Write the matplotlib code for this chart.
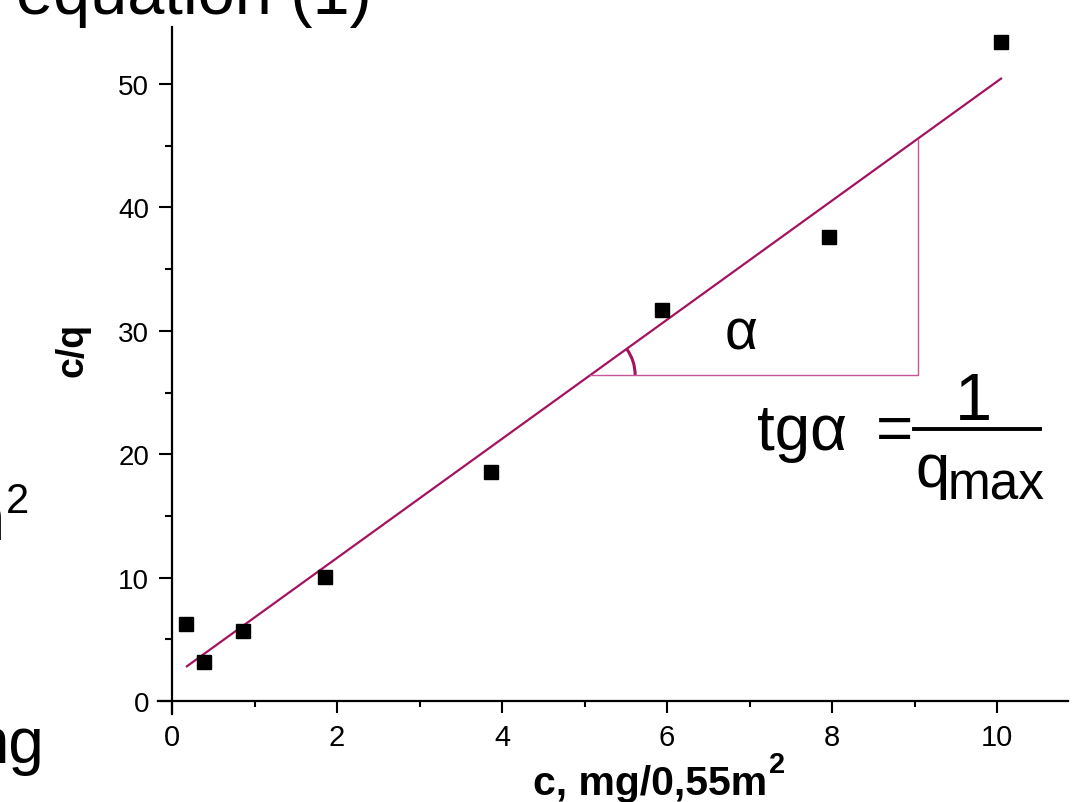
import matplotlib
matplotlib.use("Agg")
import matplotlib.pyplot as plt
from matplotlib.patches import Arc
from matplotlib.lines import Line2D
from matplotlib.transforms import ScaledTranslation
import numpy as np

# ---- data ----
c_values = [0.17, 0.39, 0.86, 1.85, 3.87, 5.94, 7.96, 10.05]
cq_values = [6.24, 3.16, 5.67, 10.05, 18.56, 31.69, 37.60, 53.40]
fit_slope = 4.826
fit_intercept = 1.94
fit_x_range = [0.17, 10.06]
triangle_base_y = 26.4
triangle_right_x = 9.04
x_major_ticks = [0, 2, 4, 6, 8, 10]
x_minor_ticks = [1, 3, 5, 7, 9]
y_major_ticks = [0, 10, 20, 30, 40, 50]
y_minor_ticks = [5, 15, 25, 35, 45]
x_label = "c, mg/0,55m"
y_label = "c/q"

plt.rcParams["font.family"] = ["Liberation Sans", "DejaVu Sans"]

W, H = 1078, 803
fig = plt.figure(figsize=(W / 100, H / 100), dpi=100)


def fx(px):
    return px / W


def fy(py):
    return 1 - py / H


ax = fig.add_axes([158 / W, 1 - 715 / H, 910 / W, 687 / H])
ax.set_xlim(-14 / 82.5, 896 / 82.5)
ax.set_ylim(-13 / 12.34, 674 / 12.34)

for s in ["top", "right"]:
    ax.spines[s].set_visible(False)
ax.spines["left"].set_position(("data", 0))
ax.spines["bottom"].set_position(("data", 0))
for s in ["left", "bottom"]:
    ax.spines[s].set_linewidth(1.6)
    ax.spines[s].set_color("black")

ax.set_xticks(x_major_ticks)
ax.set_xticks(x_minor_ticks, minor=True)
ax.set_yticks(y_major_ticks)
ax.set_yticks(y_minor_ticks, minor=True)
ax.set_xticklabels([str(v) for v in x_major_ticks])
ax.set_yticklabels([str(v) for v in y_major_ticks])
ax.tick_params(axis="x", which="major", direction="out", length=8.8, width=1.5,
               pad=7, labelsize=21)
ax.tick_params(axis="x", which="minor", direction="out", length=4.5, width=1.5)
ax.tick_params(axis="y", which="major", direction="out", length=9.4, width=1.5,
               pad=7, labelsize=20)
ax.tick_params(axis="y", which="minor", direction="out", length=5.0, width=1.5)

# fit line
fx_arr = np.array(fit_x_range)
ax.plot(fx_arr, fit_slope * fx_arr + fit_intercept, color="#A3135F", lw=1.6,
        zorder=2, solid_capstyle="butt")

# data points
ax.plot(c_values, cq_values, "s", color="black", markersize=10, zorder=3)

# triangle
tri_left_x = (triangle_base_y - fit_intercept) / fit_slope
tri_top_y = fit_slope * triangle_right_x + fit_intercept
ax.plot([tri_left_x, triangle_right_x, triangle_right_x],
        [triangle_base_y, triangle_base_y, tri_top_y],
        color="#C6559A", lw=1.0, zorder=2)

# angle arc
p0 = ax.transData.transform((tri_left_x, triangle_base_y))
p1 = ax.transData.transform((tri_left_x + 1, triangle_base_y + fit_slope))
ang = np.degrees(np.arctan2(p1[1] - p0[1], p1[0] - p0[0]))
arc = Arc((0, 0), 0.9, 0.9, theta1=0, theta2=ang, color="#A3135F", lw=2.2,
          transform=fig.dpi_scale_trans + ScaledTranslation(tri_left_x, triangle_base_y, ax.transData))
ax.add_patch(arc)

# axis labels
fig.text(fx(72), fy(350), y_label, rotation=90, ha="center", va="center",
         fontsize=27, fontweight="bold")
xl = fig.text(fx(533), fy(795), x_label, ha="left", va="baseline",
              fontsize=29.5, fontweight="bold")
renderer = fig.canvas.get_renderer()
bb = xl.get_window_extent(renderer)
fig.text(bb.x1 / W + 2 / W, fy(773), "2", ha="left", va="baseline",
         fontsize=21, fontweight="bold")

# annotations
fig.text(fx(741), fy(350), "α", ha="center", va="baseline", fontsize=41)
fig.text(fx(757), fy(450), "tgα", ha="left", va="baseline", fontsize=46)
fig.text(fx(913), fy(450), "=", ha="right", va="baseline", fontsize=46)
fig.add_artist(Line2D([fx(914), fx(1040)], [fy(430), fy(430)], lw=2.8, color="black"))
fig.text(fx(973), fy(420), "1", ha="center", va="baseline", fontsize=48)
fig.text(fx(915), fy(487), "q", ha="left", va="baseline", fontsize=44)
fig.text(fx(948), fy(500), "max", ha="left", va="baseline", fontsize=37)

# cropped slide text fragments
fig.text(fx(372), fy(14), "equation (1)", ha="right", va="baseline", fontsize=48)
fig.text(fx(45), fy(763), "ng", ha="right", va="baseline", fontsize=46)
fig.text(fx(5), fy(540), "m", ha="right", va="baseline", fontsize=46)
fig.text(fx(6), fy(513), "2", ha="left", va="baseline", fontsize=30)

fig.savefig("out.png", dpi=100)
